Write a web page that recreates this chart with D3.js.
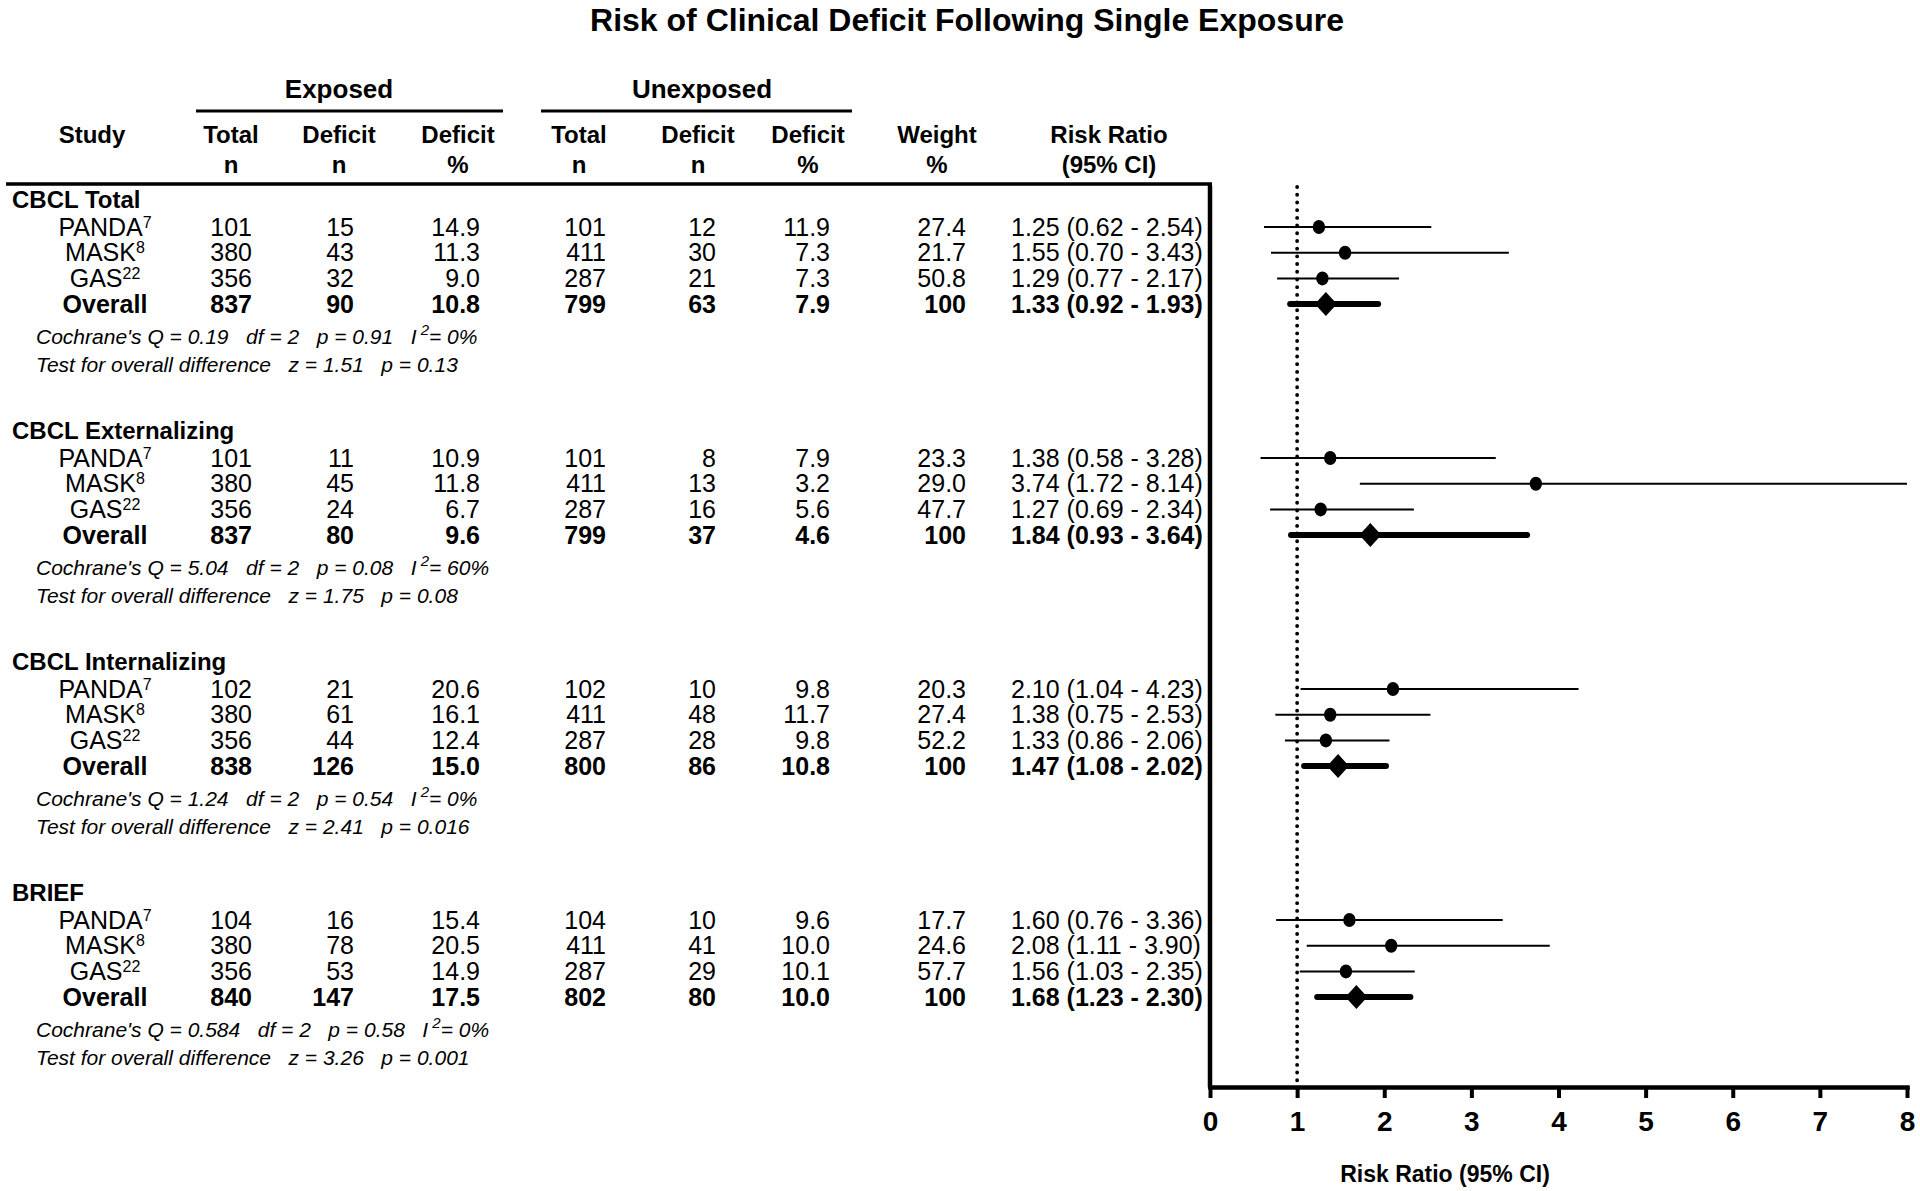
<!DOCTYPE html>
<html>
<head>
<meta charset="utf-8">
<script src="https://cdn.jsdelivr.net/npm/d3@7"></script>
<style>
  html, body { margin: 0; padding: 0; background: #fff; }
  svg { display: block; }
  text { font-family: "Liberation Sans", Arial, Helvetica, sans-serif; fill: #000; white-space: pre; }
</style>
</head>
<body>
<svg id="chart" width="1920" height="1191"></svg>
<script>
// ---------------- DATA ----------------
const chartTitle = "Risk of Clinical Deficit Following Single Exposure";
const groups = ["CBCL Total", "CBCL Externalizing", "CBCL Internalizing", "BRIEF"];
const studies = ["PANDA", "MASK", "GAS", "Overall"];
const studyRefs = ["7", "8", "22", ""];

const expTotal = [[101, 380, 356, 837], [101, 380, 356, 837], [102, 380, 356, 838], [104, 380, 356, 840]];
const expDeficit = [[15, 43, 32, 90], [11, 45, 24, 80], [21, 61, 44, 126], [16, 78, 53, 147]];
const expPct = [["14.9", "11.3", "9.0", "10.8"], ["10.9", "11.8", "6.7", "9.6"], ["20.6", "16.1", "12.4", "15.0"], ["15.4", "20.5", "14.9", "17.5"]];
const unTotal = [[101, 411, 287, 799], [101, 411, 287, 799], [102, 411, 287, 800], [104, 411, 287, 802]];
const unDeficit = [[12, 30, 21, 63], [8, 13, 16, 37], [10, 48, 28, 86], [10, 41, 29, 80]];
const unPct = [["11.9", "7.3", "7.3", "7.9"], ["7.9", "3.2", "5.6", "4.6"], ["9.8", "11.7", "9.8", "10.8"], ["9.6", "10.0", "10.1", "10.0"]];
const weightPct = [["27.4", "21.7", "50.8", "100"], ["23.3", "29.0", "47.7", "100"], ["20.3", "27.4", "52.2", "100"], ["17.7", "24.6", "57.7", "100"]];

const riskRatio = [[1.25, 1.55, 1.29, 1.33], [1.38, 3.74, 1.27, 1.84], [2.10, 1.38, 1.33, 1.47], [1.60, 2.08, 1.56, 1.68]];
const ciLow = [[0.62, 0.70, 0.77, 0.92], [0.58, 1.72, 0.69, 0.93], [1.04, 0.75, 0.86, 1.08], [0.76, 1.11, 1.03, 1.23]];
const ciHigh = [[2.54, 3.43, 2.17, 1.93], [3.28, 8.14, 2.34, 3.64], [4.23, 2.53, 2.06, 2.02], [3.36, 3.90, 2.35, 2.30]];

const cochraneQ = ["0.19", "5.04", "1.24", "0.584"];
const hetDf = ["2", "2", "2", "2"];
const hetP = ["0.91", "0.08", "0.54", "0.58"];
const iSquared = ["0%", "60%", "0%", "0%"];
const zValue = ["1.51", "1.75", "2.41", "3.26"];
const overallP = ["0.13", "0.08", "0.016", "0.001"];

const xTicks = [0, 1, 2, 3, 4, 5, 6, 7, 8];
const xAxisTitle = "Risk Ratio (95% CI)";
const headerGroups = ["Exposed", "Unexposed"];
const columnHeads = [["Total", "n"], ["Deficit", "n"], ["Deficit", "%"], ["Total", "n"], ["Deficit", "n"], ["Deficit", "%"], ["Weight", "%"], ["Risk Ratio", "(95% CI)"]];

// ---------------- LAYOUT ----------------
const svg = d3.select("#chart");
const FONT = 25;

// vertical layout: each group occupies 9 row slots
const slotH = 25.7;
const groupTop = 200, groupStep = 231;
const rowY = (g, slot) => groupTop + g * groupStep + slot * slotH;
const studySlots = [1.05, 2.05, 3.05, 4.05];
const cochraneSlot = 5.33, testSlot = 6.42;

// forest plot scale
const x = d3.scaleLinear().domain([0, 8]).range([1210, 1907]);
const axisY = 1087, axisTop = 184;

// title
svg.append("text").attr("x", 967).attr("y", 31).attr("text-anchor", "middle")
  .style("font-size", "32px").style("font-weight", "bold").text(chartTitle);

// group headers (Exposed / Unexposed)
const groupHeadCx = [339, 702];
const groupLine = [[196, 503], [541, 852]];
headerGroups.forEach((h, i) => {
  svg.append("text").attr("x", groupHeadCx[i]).attr("y", 89).attr("dy", "0.35em")
    .attr("text-anchor", "middle").style("font-size", "26px").style("font-weight", "bold").text(h);
  svg.append("line").attr("x1", groupLine[i][0]).attr("x2", groupLine[i][1])
    .attr("y1", 111).attr("y2", 111).attr("stroke", "#000").attr("stroke-width", 3);
});

// column headers
const headCx = [231, 339, 458, 579, 698, 808, 937, 1109];
svg.append("text").attr("x", 92).attr("y", 135).attr("dy", "0.35em").attr("text-anchor", "middle")
  .style("font-size", "24px").style("font-weight", "bold").text("Study");
columnHeads.forEach((lines, i) => {
  lines.forEach((t, j) => {
    svg.append("text").attr("x", headCx[i]).attr("y", 135 + j * 29.5).attr("dy", "0.35em")
      .attr("text-anchor", "middle").style("font-size", "24px").style("font-weight", "bold").text(t);
  });
});
svg.append("line").attr("x1", 6).attr("x2", 1212).attr("y1", 184).attr("y2", 184)
  .attr("stroke", "#000").attr("stroke-width", 3.5);

// numeric column right edges
const colRight = [252, 354, 480, 606, 716, 830, 966];
const rrLeft = 1011;
const fmtRR = (g, i) => `${riskRatio[g][i].toFixed(2)} (${ciLow[g][i].toFixed(2)} - ${ciHigh[g][i].toFixed(2)})`;

groups.forEach((gName, g) => {
  // group header
  svg.append("text").attr("x", 12).attr("y", rowY(g, 0)).attr("dy", "0.35em")
    .style("font-size", "24px").style("font-weight", "bold").text(gName);

  studies.forEach((s, i) => {
    const y = rowY(g, studySlots[i]);
    const bold = s === "Overall";
    const st = svg.append("text").attr("x", 105).attr("y", y).attr("dy", "0.35em")
      .attr("text-anchor", "middle").style("font-size", FONT + "px")
      .style("font-weight", bold ? "bold" : "normal");
    st.append("tspan").text(s);
    if (studyRefs[i]) st.append("tspan").attr("dy", "-8px").style("font-size", "16px").text(studyRefs[i]);

    const vals = [expTotal[g][i], expDeficit[g][i], expPct[g][i], unTotal[g][i], unDeficit[g][i], unPct[g][i], weightPct[g][i]];
    vals.forEach((v, c) => {
      svg.append("text").attr("x", colRight[c]).attr("y", y).attr("dy", "0.35em")
        .attr("text-anchor", "end").style("font-size", FONT + "px")
        .style("font-weight", bold ? "bold" : "normal").text(v);
    });
    svg.append("text").attr("x", rrLeft).attr("y", y).attr("dy", "0.35em")
      .style("font-size", FONT + "px").style("font-weight", bold ? "bold" : "normal").text(fmtRR(g, i));
  });

  // statistics lines
  const qy = rowY(g, cochraneSlot) + 7.5;
  const q = svg.append("text").attr("x", 36).attr("y", qy)
    .style("font-size", "21px").style("font-style", "italic");
  q.append("tspan").text(`Cochrane's Q = ${cochraneQ[g]}   df = ${hetDf[g]}   p = ${hetP[g]}   I`);
  q.append("tspan").attr("y", qy - 9).style("font-size", "15px").text(" 2");
  q.append("tspan").attr("y", qy).text(`= ${iSquared[g]}`);
  svg.append("text").attr("x", 36).attr("y", rowY(g, testSlot) + 7.5)
    .style("font-size", "21px").style("font-style", "italic")
    .text(`Test for overall difference   z = ${zValue[g]}   p = ${overallP[g]}`);
});

// ---------------- FOREST PLOT ----------------
const plot = svg.append("g");
// reference line at RR = 1
plot.append("line").attr("x1", x(1)).attr("x2", x(1)).attr("y1", axisTop + 3).attr("y2", axisY - 4)
  .attr("stroke", "#000").attr("stroke-width", 3.8).attr("stroke-linecap", "round")
  .attr("stroke-dasharray", "0.1 7.6");

const clampX = v => x(Math.min(v, x.domain()[1]));
groups.forEach((gName, g) => {
  studies.forEach((s, i) => {
    const y = rowY(g, studySlots[i]);
    if (s === "Overall") {
      plot.append("line").attr("x1", clampX(ciLow[g][i])).attr("x2", clampX(ciHigh[g][i]))
        .attr("y1", y).attr("y2", y).attr("stroke", "#000").attr("stroke-width", 6)
        .attr("stroke-linecap", "round");
      const cx = x(riskRatio[g][i]);
      plot.append("path")
        .attr("d", `M${cx - 11},${y} L${cx},${y - 12} L${cx + 11},${y} L${cx},${y + 12} Z`)
        .attr("fill", "#000");
    } else {
      plot.append("line").attr("x1", clampX(ciLow[g][i])).attr("x2", clampX(ciHigh[g][i]))
        .attr("y1", y).attr("y2", y).attr("stroke", "#000").attr("stroke-width", 2);
      plot.append("ellipse").attr("cx", x(riskRatio[g][i])).attr("cy", y)
        .attr("rx", 6.2).attr("ry", 7).attr("fill", "#000");
    }
  });
});

// y axis line
plot.append("line").attr("x1", x(0)).attr("x2", x(0)).attr("y1", axisTop + 2).attr("y2", axisY)
  .attr("stroke", "#000").attr("stroke-width", 4.5).attr("stroke-linecap", "round");

// x axis
const xAxis = d3.axisBottom(x).tickValues(xTicks).tickFormat(d3.format("d"))
  .tickSize(11).tickSizeOuter(0).tickPadding(13);
const ax = svg.append("g").attr("transform", `translate(0,${axisY})`).call(xAxis);
ax.select(".domain").attr("stroke", "#000").attr("stroke-width", 4.5).attr("stroke-linecap", "square");
ax.selectAll(".tick line").attr("stroke", "#000").attr("stroke-width", 4);
ax.selectAll(".tick text").style("font-size", "28px").style("font-weight", "bold")
  .style("font-family", "'Liberation Sans', Arial, sans-serif").attr("fill", "#000");

svg.append("text").attr("x", 1445).attr("y", 1174).attr("dy", "0.35em").attr("text-anchor", "middle")
  .style("font-size", "23px").style("font-weight", "bold").text(xAxisTitle);
</script>
</body>
</html>
